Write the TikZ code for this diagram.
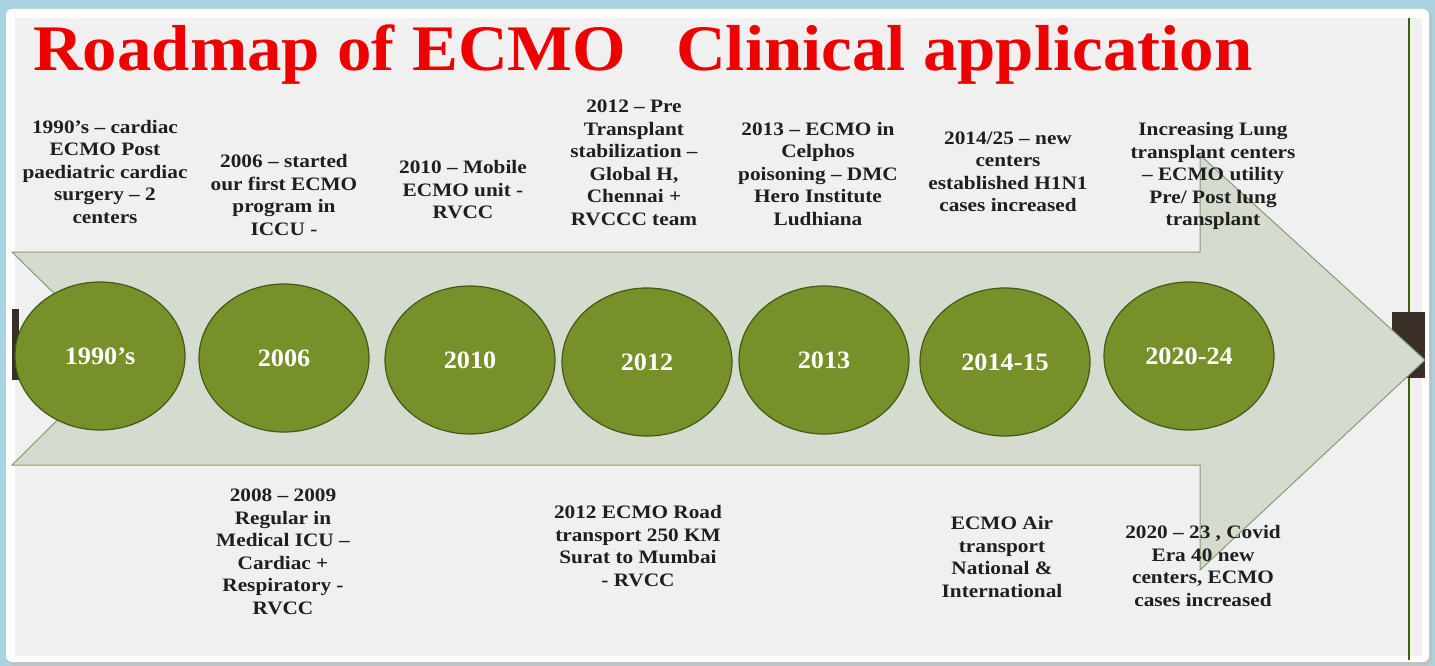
\documentclass[tikz,border=0pt]{standalone}
\usepackage{fontspec}
\setmainfont{Liberation Serif}
\newfontfamily\titlefont[Ligatures=TeX,FakeStretch=1.06]{Liberation Serif}
\newfontfamily\notefont[Ligatures=TeX,FakeStretch=1.12]{Liberation Serif}
\newfontfamily\yearfont[Ligatures=TeX,FakeStretch=1.05]{Liberation Serif}
\usepackage{tikz}
\usetikzlibrary{shapes.geometric}

\definecolor{frameblue}{HTML}{A9D3E0}
\definecolor{panelgray}{HTML}{F0F0F0}
\definecolor{arrowfill}{HTML}{D6DBCF}
\definecolor{arrowline}{HTML}{849C74}
\definecolor{yeargreen}{HTML}{77902A}
\definecolor{yeardark}{HTML}{3F5C16}
\definecolor{barbrown}{HTML}{3A2F27}
\definecolor{titlered}{HTML}{EE0000}

\begin{document}
\begin{tikzpicture}[x=1pt,y=-1pt,
		year_style/.style={ellipse,draw=yeardark,line width=1.2pt,fill=yeargreen,
			minimum width=170pt,minimum height=148pt,inner sep=0pt,text=white,
			font=\yearfont\bfseries\fontsize{25}{28}\selectfont},
		note_style/.style={align=center,inner sep=0pt,text=black!88,
			font=\notefont\bfseries\fontsize{19}{22.5}\selectfont},
		title_style/.style={anchor=base west,inner sep=0pt,text=titlered,
			font=\titlefont\bfseries\fontsize{65}{70}\selectfont}]

		\useasboundingbox (0,0) rectangle (1435,666);
		\fill[frameblue] (0,0) rectangle (1435,666);
		\fill[black!25,rounded corners=6pt] (8,12) rectangle (1432,665);
		\fill[white,rounded corners=6pt] (6,9) rectangle (1429,662);
		\fill[panelgray] (15,18) rectangle (1422,656);
		\draw[yeardark,line width=1.5pt] (1409,18) -- (1409,660);

		% bars behind the arrow
		\fill[barbrown] (12,309) rectangle (19,380);
		\fill[barbrown] (1392,312) rectangle (1425,378);

		% timeline arrow
		\draw[arrowline,fill=arrowfill,line width=1pt]
			(12,252) -- (1200,252) -- (1200,155) -- (1425,360) -- (1200,570)
			-- (1200,465) -- (12,465) -- (120,358) -- cycle;

		\node[title_style] (title) at (33,71) {Roadmap of ECMO\hspace{0.5em} Clinical application};

		% years
		\node[year_style] (y1990) at (100,356)  {1990’s};
		\node[year_style] (y2006) at (284,358)  {2006};
		\node[year_style] (y2010) at (470,360)  {2010};
		\node[year_style] (y2012) at (647,362)  {2012};
		\node[year_style] (y2013) at (824,360)  {2013};
		\node[year_style] (y2014) at (1005,362) {2014-15};
		\node[year_style] (y2020) at (1189,356) {2020-24};

		% notes above
		\node[note_style] (t1990) at (105,172)  {1990’s -- cardiac\\ECMO Post\\paediatric cardiac\\surgery -- 2\\centers};
		\node[note_style] (t2006) at (284,195)  {2006 -- started\\our first ECMO\\program in\\ICCU -};
		\node[note_style] (t2010) at (463,190)  {2010 -- Mobile\\ECMO unit -\\RVCC};
		\node[note_style] (t2012) at (634,163)  {2012 -- Pre\\Transplant\\stabilization --\\Global H,\\Chennai +\\RVCCC team};
		\node[note_style] (t2013) at (818,174)  {2013 -- ECMO in\\Celphos\\poisoning -- DMC\\Hero Institute\\Ludhiana};
		\node[note_style] (t2014) at (1008,172) {2014/25 -- new\\centers\\established H1N1\\cases increased};
		\node[note_style] (tlung) at (1213,176) {Increasing Lung\\transplant centers\\-- ECMO utility\\Pre/ Post lung\\transplant};

		% notes below
		\node[note_style] (b2008) at (283,552)  {2008 -- 2009\\Regular in\\Medical ICU --\\Cardiac +\\Respiratory -\\RVCC};
		\node[note_style] (b2012) at (638,546)  {2012 ECMO Road\\transport 250 KM\\Surat to Mumbai\\- RVCC};
		\node[note_style] (bair)  at (1002,557) {ECMO Air\\transport\\National \&\\International};
		\node[note_style] (b2020) at (1203,566) {2020 -- 23 , Covid\\Era 40 new\\centers, ECMO\\cases increased};

		\end{tikzpicture}
\end{document}
